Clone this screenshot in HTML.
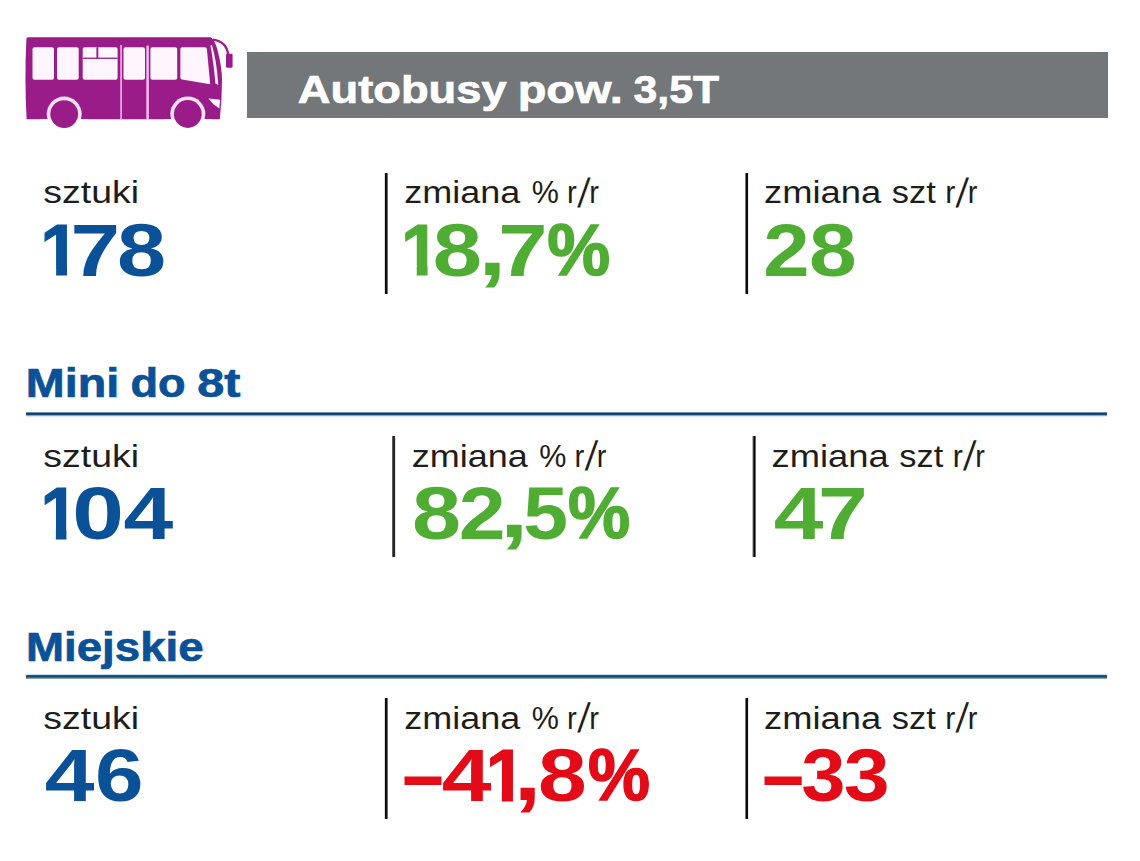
<!DOCTYPE html>
<html lang="pl">
<head>
<meta charset="utf-8">
<title>Autobusy pow. 3,5T</title>
<style>
html,body{margin:0;padding:0;background:#fff;}
body{width:1140px;height:861px;position:relative;overflow:hidden;font-family:"Liberation Sans",sans-serif;}
.g{position:absolute;left:0;top:0;margin:0;padding:0;font-size:0;line-height:0;font-weight:inherit;}
.g span{position:absolute;white-space:pre;line-height:1;transform-origin:0 0;}
.hd{color:#fff;font-weight:700;-webkit-text-stroke:0.7px #fff;}
.hd span{font-size:40px;}
.sh{color:#0a5198;font-weight:700;-webkit-text-stroke:0.7px #0a5198;}
.sh span{font-size:40.5px;}
.lb{color:#1d1d1b;font-weight:400;}
.lb span{font-size:31.7px;}
.nm{font-weight:700;}
.nm span{font-size:75px;}
.blue{color:#0a5198;-webkit-text-stroke-color:#0a5198;}
.pc{-webkit-text-stroke-width:1.6px;}
.one{clip-path:polygon(0 0,0.379em 0,0.379em 100%,0.225em 100%,0.225em 0.715em,0 0.715em);-webkit-text-stroke-width:1.2px;}
.green{color:#50ad33;-webkit-text-stroke-color:#50ad33;}
.red{color:#e20b17;-webkit-text-stroke-color:#e20b17;}
.bar{position:absolute;left:247px;top:52.4px;width:861px;height:65.8px;background:#73777a;}
.rule{position:absolute;left:26px;width:1081px;height:5px;}
.dv{position:absolute;width:4px;height:121px;}
svg.bus{position:absolute;left:0;top:0;}
</style>
</head>
<body>
<svg class="bus" width="260" height="140" viewBox="0 0 260 140">
<path d="M28,37.2 L211,37.2 Q215.5,41 218,52 Q222,68 222,80 Q222,100 219.8,119.2 L26.6,119.2 Q24.4,78 26.4,39 Q26.6,37.2 28,37.2 Z" fill="#9a1c89"/>
<circle cx="64.2" cy="114.1" r="17.5" fill="#fbe0fa"/>
<circle cx="187.8" cy="114" r="17.5" fill="#fbe0fa"/>
<rect x="40" y="119.2" width="48" height="15" fill="#fff"/>
<rect x="164" y="119.2" width="48" height="15" fill="#fff"/>
<circle cx="64.2" cy="114.1" r="13.9" fill="#9a1c89"/>
<circle cx="187.8" cy="114" r="13.9" fill="#9a1c89"/>
<g fill="#fff5fd">
<rect x="32.5" y="47.2" width="21.5" height="32.5" rx="2"/>
<rect x="57" y="47.2" width="21.7" height="32.5" rx="2"/>
<rect x="82.7" y="47.2" width="34.9" height="32.5" rx="2"/>
<rect x="123.5" y="47.2" width="21.5" height="32.5" rx="2"/>
<rect x="150.4" y="47.2" width="26.8" height="32.5" rx="2"/>
<path d="M182,47.2 L205,47.2 Q206.6,47.2 206.9,49 L210.2,84.2 L182,79.6 Q180.4,79.3 180.4,77.7 L180.4,49 Q180.4,47.2 182,47.2 Z"/>
<path d="M210.4,45.6 L211.9,45 Q216.6,60 218.3,85 L215.4,83.6 Q213.6,62 210.4,45.6 Z"/>
<path d="M208.3,98.5 L220.2,99.7 L219.4,108.6 Q213,105 208.3,98.5 Z"/>
</g>
<rect x="82.7" y="57.6" width="34.9" height="1.3" fill="#9a1c89"/>
<rect x="96.4" y="47.2" width="1.9" height="11" fill="#9a1c89"/>
<rect x="120.3" y="45" width="1.6" height="74.2" fill="#f3b6ee"/>
<rect x="146.3" y="45.6" width="2.6" height="73.6" fill="#f3b6ee"/>
<path d="M213,39.6 Q226.5,41.5 228.2,54.5" fill="none" stroke="#9a1c89" stroke-width="2.3"/>
<rect x="226" y="53.8" width="6.6" height="14" rx="1.2" fill="#9a1c89"/>
</svg>
<div class="bar"></div>
<div class="rule" style="top:412px;background:linear-gradient(to bottom,#6f8eab 0px,#6f8eab 1px,#153d63 1px,#153d63 2px,#1c4a78 2px,#1c4a78 3px,#86a7cb 3px,#86a7cb 4px,#dde9f5 4px,#dde9f5 5px)"></div>
<div class="rule" style="top:674px;background:linear-gradient(to bottom,#c5dcea 0px,#c5dcea 1px,#2c526f 1px,#2c526f 2px,#1d4a68 2px,#1d4a68 3px,#3f6887 3px,#3f6887 4px,#86a2b8 4px,#86a2b8 5px)"></div>
<div class="dv" style="left:384px;top:173px;background:linear-gradient(to right,#dcdcdc 0px,#dcdcdc 1px,#0a0a0a 1px,#0a0a0a 2px,#101010 2px,#101010 3px,#6a6a6a 3px,#6a6a6a 4px)"></div>
<div class="dv" style="left:745px;top:173px;background:linear-gradient(to right,#747474 0px,#747474 1px,#0a0a0a 1px,#0a0a0a 2px,#0a0a0a 2px,#0a0a0a 3px,#e8e8e8 3px,#e8e8e8 4px)"></div>
<div class="dv" style="left:392px;top:436px;background:linear-gradient(to right,#5e5e5e 0px,#5e5e5e 1px,#222222 1px,#222222 2px,#2a2a2a 2px,#2a2a2a 3px,#e4e4e4 3px,#e4e4e4 4px)"></div>
<div class="dv" style="left:752px;top:436px;background:linear-gradient(to right,#b5b5b5 0px,#b5b5b5 1px,#404040 1px,#404040 2px,#080808 2px,#080808 3px,#666666 3px,#666666 4px)"></div>
<div class="dv" style="left:384px;top:698px;background:linear-gradient(to right,#dcdcdc 0px,#dcdcdc 1px,#0a0a0a 1px,#0a0a0a 2px,#101010 2px,#101010 3px,#6a6a6a 3px,#6a6a6a 4px)"></div>
<div class="dv" style="left:745px;top:698px;background:linear-gradient(to right,#747474 0px,#747474 1px,#0a0a0a 1px,#0a0a0a 2px,#0a0a0a 2px,#0a0a0a 3px,#e8e8e8 3px,#e8e8e8 4px)"></div>
<h1 id="h0" class="g hd"><span id="h0_0" style="left:297px;top:69px;transform:translate(0.87px,0) scale(1.1315,0.9875)">Autobusy </span><span id="h0_1" style="left:517px;top:69px;transform:translate(0.65px,0) scale(1.1734,0.9875)">pow. </span><span id="h0_2" style="left:633px;top:69px;transform:translate(0.52px,0) scale(1.0689,0.9875)">3,5T</span></h1>
<div id="l11" class="g lb"><span id="l11_0" style="left:43px;top:177px;transform:translate(0.32px,0) scale(1.1807,1.0044)">sztuki</span></div>
<div id="l12" class="g lb"><span id="l12_0" style="left:404px;top:177px;transform:translate(0.21px,0) scale(1.1370,1.0044)">zmiana </span><span id="l12_1" style="left:531px;top:177px;transform:translate(0.69px,0) scale(0.9635,1.0044)">% </span><span id="l12_2" style="left:566px;top:177px;transform:translate(0.96px,0) scale(0.9250,1.0000)">r</span><span id="l12_3" style="left:581px;top:173px;transform:translate(0.47px,0) skewX(-7deg) scale(1.0979,1.2903)">/</span><span id="l12_4" style="left:589px;top:177px;transform:translate(0.14px,0) scale(0.9125,1.0000)">r</span></div>
<div id="l13" class="g lb"><span id="l13_0" style="left:764px;top:177px;transform:translate(0.07px,0) scale(1.1470,1.0044)">zmiana </span><span id="l13_1" style="left:891px;top:177px;transform:translate(0.82px,0) scale(1.0848,1.0044)">szt </span><span id="l13_2" style="left:945px;top:177px;transform:translate(0.20px,0) scale(0.9548,1.0000)">r</span><span id="l13_3" style="left:959px;top:173px;transform:translate(0.64px,0) skewX(-7deg) scale(1.1155,1.2903)">/</span><span id="l13_4" style="left:967px;top:177px;transform:translate(0.67px,0) scale(0.9125,1.0000)">r</span></div>
<div id="n11" class="g nm blue"><span id="n11_0" class="one" style="left:40px;top:214px;transform:translate(0.30px,0) scale(0.9388,0.9717)">1</span><span id="n11_1" style="left:70px;top:213px;transform:translate(0.60px,0) scale(1.1887,0.9952)">7</span><span id="n11_2" style="left:116px;top:213px;transform:translate(0.89px,0) scale(1.1770,0.9952)">8</span></div>
<div id="n12" class="g nm green"><span id="n12_0" class="one" style="left:401px;top:214px;transform:translate(0.01px,0) scale(0.9330,0.9717)">1</span><span id="n12_1" style="left:432px;top:213px;transform:translate(0.82px,0) scale(1.1797,0.9952)">8</span><span id="n12_2" style="left:478px;top:207px;transform:translate(0.18px,0) scale(1.3478,1.0762)">,</span><span id="n12_3" style="left:498px;top:213px;transform:translate(0.19px,0) scale(1.1830,0.9952)">7</span><span id="n12_4" class="pc" style="left:547px;top:214px;transform:translate(0.34px,0) scale(0.9440,0.9670)">%</span></div>
<div id="n13" class="g nm green"><span id="n13_0" style="left:763px;top:213px;transform:translate(0.35px,0) scale(1.1125,0.9952)">2</span><span id="n13_1" style="left:808px;top:213px;transform:translate(0.89px,0) scale(1.1446,0.9952)">8</span></div>
<h2 id="h2" class="g sh"><span id="h2_0" style="left:25px;top:364px;transform:translate(0.82px,0) scale(1.1531,0.9827)">Mini </span><span id="h2_1" style="left:130px;top:364px;transform:translate(0.54px,0) scale(1.1149,0.9827)">do </span><span id="h2_2" style="left:197px;top:364px;transform:translate(0.25px,0) scale(1.2003,0.9827)">8t</span></h2>
<div id="l21" class="g lb"><span id="l21_0" style="left:43px;top:441px;transform:translate(0.32px,0) scale(1.1807,1.0022)">sztuki</span></div>
<div id="l22" class="g lb"><span id="l22_0" style="left:411px;top:441px;transform:translate(0.71px,0) scale(1.1370,1.0022)">zmiana </span><span id="l22_1" style="left:539px;top:441px;transform:translate(0.19px,0) scale(0.9635,1.0022)">% </span><span id="l22_2" style="left:574px;top:441px;transform:translate(0.46px,0) scale(0.9250,0.9978)">r</span><span id="l22_3" style="left:588px;top:436px;transform:translate(0.86px,0) skewX(-7deg) scale(1.1113,1.3012)">/</span><span id="l22_4" style="left:596px;top:441px;transform:translate(0.64px,0) scale(0.9125,0.9978)">r</span></div>
<div id="l23" class="g lb"><span id="l23_0" style="left:771px;top:441px;transform:translate(0.57px,0) scale(1.1470,1.0022)">zmiana </span><span id="l23_1" style="left:899px;top:441px;transform:translate(0.32px,0) scale(1.0848,1.0022)">szt </span><span id="l23_2" style="left:952px;top:441px;transform:translate(0.70px,0) scale(0.9548,0.9978)">r</span><span id="l23_3" style="left:967px;top:436px;transform:translate(0.14px,0) skewX(-7deg) scale(1.1155,1.3012)">/</span><span id="l23_4" style="left:975px;top:441px;transform:translate(0.17px,0) scale(0.9125,0.9978)">r</span></div>
<div id="n21" class="g nm blue"><span id="n21_0" class="one" style="left:40px;top:477px;transform:translate(0.39px,0) scale(0.9164,0.9766)">1</span><span id="n21_1" style="left:72px;top:476px;transform:translate(0.24px,0) scale(1.2392,0.9952)">0</span><span id="n21_2" style="left:123px;top:476px;transform:translate(0.51px,0) scale(1.1938,0.9952)">4</span></div>
<div id="n22" class="g nm green"><span id="n22_0" style="left:412px;top:476px;transform:translate(0.02px,0) scale(1.1770,0.9952)">8</span><span id="n22_1" style="left:458px;top:476px;transform:translate(0.69px,0) scale(1.1242,0.9952)">2</span><span id="n22_2" style="left:499px;top:469px;transform:translate(0.72px,0) scale(1.3810,1.0762)">,</span><span id="n22_3" style="left:523px;top:476px;transform:translate(0.32px,0) scale(1.0738,0.9952)">5</span><span id="n22_4" class="pc" style="left:568px;top:477px;transform:translate(0.00px,0) scale(0.9330,0.9670)">%</span></div>
<div id="n23" class="g nm green"><span id="n23_0" style="left:773px;top:476px;transform:translate(0.78px,0) scale(1.1913,0.9952)">4</span><span id="n23_1" style="left:818px;top:476px;transform:translate(0.12px,0) scale(1.1944,0.9952)">7</span></div>
<h2 id="h3" class="g sh"><span id="h3_0" style="left:26px;top:627px;transform:translate(0.01px,0) scale(1.1271,1.0036)">Miejskie</span></h2>
<div id="l31" class="g lb"><span id="l31_0" style="left:43px;top:703px;transform:translate(0.32px,0) scale(1.1807,1.0044)">sztuki</span></div>
<div id="l32" class="g lb"><span id="l32_0" style="left:404px;top:703px;transform:translate(0.21px,0) scale(1.1370,1.0044)">zmiana </span><span id="l32_1" style="left:531px;top:703px;transform:translate(0.69px,0) scale(0.9635,1.0044)">% </span><span id="l32_2" style="left:566px;top:703px;transform:translate(0.96px,0) scale(0.9250,0.9978)">r</span><span id="l32_3" style="left:581px;top:698px;transform:translate(0.36px,0) skewX(-7deg) scale(1.1113,1.3012)">/</span><span id="l32_4" style="left:589px;top:703px;transform:translate(0.14px,0) scale(0.9125,0.9978)">r</span></div>
<div id="l33" class="g lb"><span id="l33_0" style="left:764px;top:703px;transform:translate(0.07px,0) scale(1.1470,1.0044)">zmiana </span><span id="l33_1" style="left:891px;top:703px;transform:translate(0.82px,0) scale(1.0848,1.0044)">szt </span><span id="l33_2" style="left:945px;top:703px;transform:translate(0.20px,0) scale(0.9548,0.9978)">r</span><span id="l33_3" style="left:959px;top:698px;transform:translate(0.64px,0) skewX(-7deg) scale(1.1155,1.3012)">/</span><span id="l33_4" style="left:967px;top:703px;transform:translate(0.67px,0) scale(0.9125,0.9978)">r</span></div>
<div id="n31" class="g nm blue"><span id="n31_0" style="left:44px;top:738px;transform:translate(0.85px,0) scale(1.1925,0.9971)">4</span><span id="n31_1" style="left:95px;top:738px;transform:translate(0.04px,0) scale(1.1628,0.9971)">6</span></div>
<div id="n32" class="g nm red"><span id="n32_0" style="left:402px;top:733px;transform:translate(0.26px,0) scale(0.9973,1.1333)">–</span><span id="n32_1" style="left:441px;top:738px;transform:translate(0.85px,0) scale(1.1938,0.9971)">4</span><span id="n32_2" class="one" style="left:485px;top:739px;transform:translate(0.65px,0) scale(0.9601,0.9783)">1</span><span id="n32_3" style="left:513px;top:732px;transform:translate(0.41px,0) scale(1.3433,1.0762)">,</span><span id="n32_4" style="left:538px;top:738px;transform:translate(0.10px,0) scale(1.1676,0.9971)">8</span><span id="n32_5" class="pc" style="left:588px;top:739px;transform:translate(0.10px,0) scale(0.9292,0.9718)">%</span></div>
<div id="n33" class="g nm red"><span id="n33_0" style="left:762px;top:733px;transform:translate(0.25px,0) scale(1.0014,1.1333)">–</span><span id="n33_1" style="left:801px;top:738px;transform:translate(0.14px,0) scale(1.0604,0.9971)">3</span><span id="n33_2" style="left:843px;top:738px;transform:translate(0.83px,0) scale(1.0993,0.9971)">3</span></div>
</body>
</html>
